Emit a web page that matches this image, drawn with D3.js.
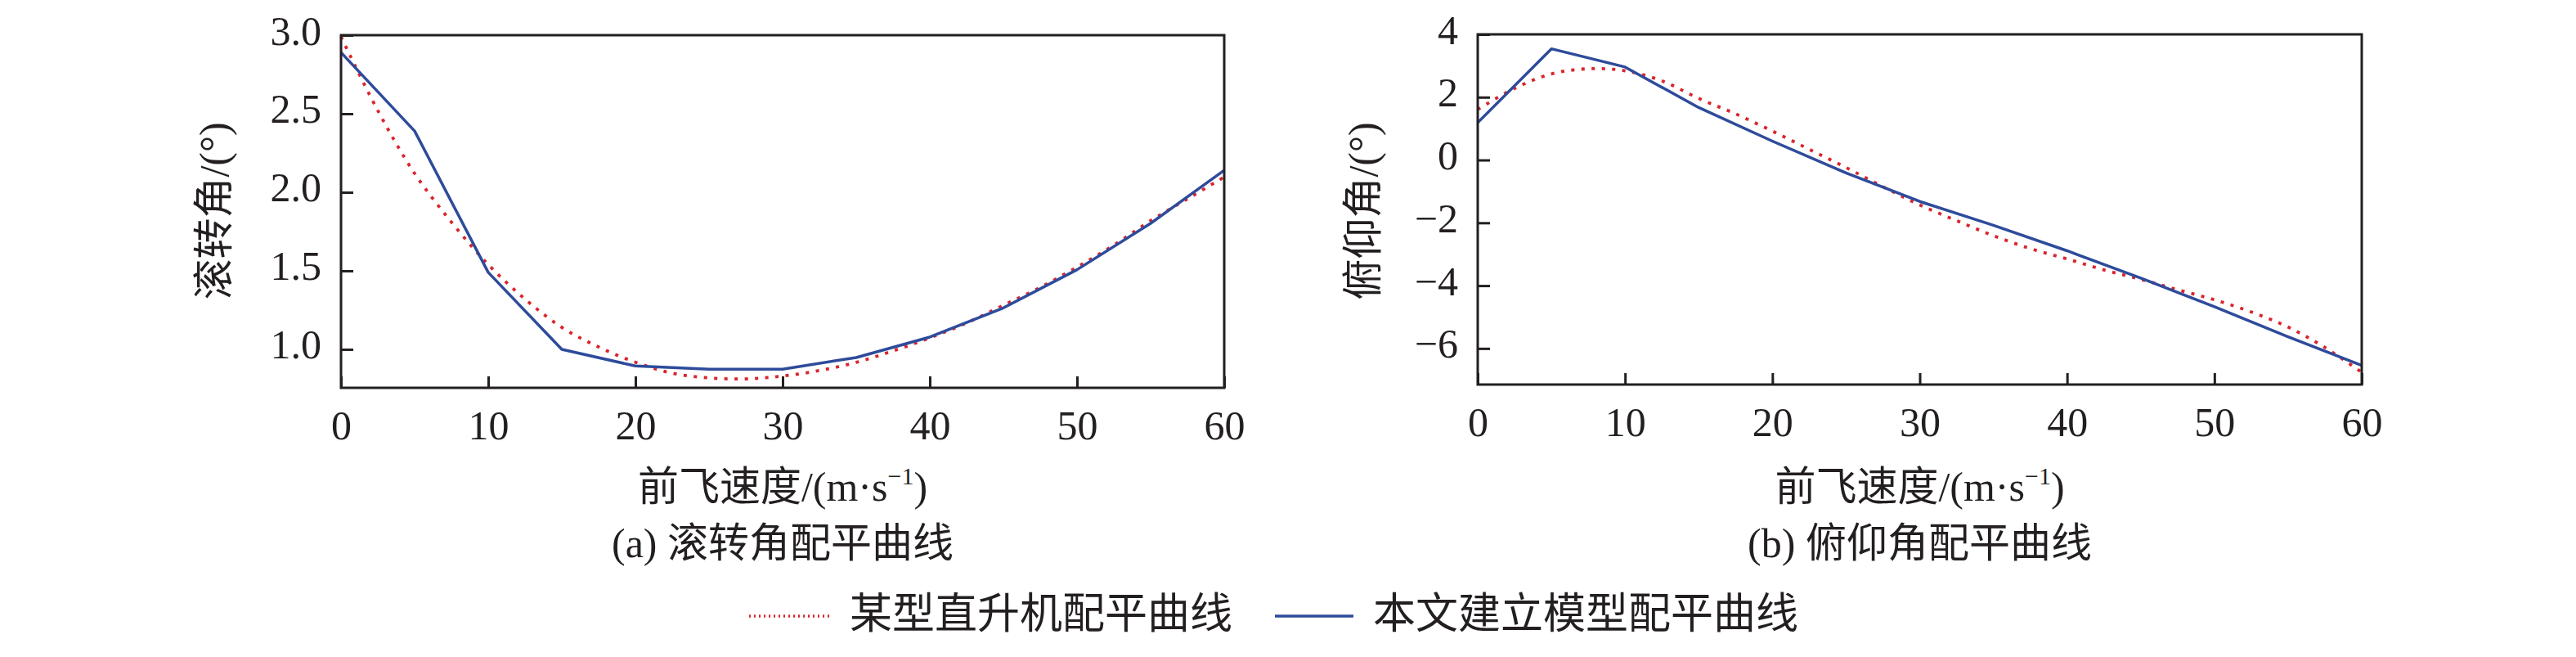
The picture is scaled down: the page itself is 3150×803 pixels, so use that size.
<!DOCTYPE html>
<html>
<head>
<meta charset="utf-8">
<script src="https://cdn.jsdelivr.net/npm/d3@7/dist/d3.min.js"></script>
<style>
	body { margin: 0; background: #fff; }
	text { font-family: 'Liberation Serif', 'Noto Sans CJK SC', serif; fill: #231f20; }
</style>
</head>
<body>
<script>
const w = 3150;
const h = 803;

// speeds of the model points and of the reference (smooth) curve
const speeds = [0, 5, 10, 15, 20, 25, 30, 35, 40, 45, 50, 55, 60];
const speedsRef = [0, 2.5, 5, 7.5, 10, 12.5, 15, 17.5, 20, 22.5, 25, 27.5, 30,
	32.5, 35, 37.5, 40, 42.5, 45, 47.5, 50, 52.5, 55, 57.5, 60];

// roll angle (deg)
const rollModel = [2.89, 2.39, 1.49, 1.0, 0.894, 0.874, 0.874, 0.948, 1.078, 1.264, 1.507, 1.802, 2.14];
const rollRef = [2.99, 2.52, 2.12, 1.81, 1.54, 1.32, 1.14, 1.015, 0.918, 0.848, 0.818, 0.812, 0.83,
	0.865, 0.917, 0.99, 1.073, 1.168, 1.281, 1.394, 1.524, 1.663, 1.819, 1.958, 2.097];

// pitch angle (deg)
const pitchModel = [1.19, 3.54, 2.96, 1.67, 0.6, -0.41, -1.32, -2.08, -2.89, -3.76, -4.67, -5.63, -6.54];
const pitchRef = [1.61, 2.28, 2.74, 2.905, 2.84, 2.52, 1.96, 1.47, 0.92, 0.34, -0.24, -0.85, -1.43,
	-1.93, -2.41, -2.82, -3.15, -3.5, -3.8, -4.13, -4.45, -4.84, -5.32, -5.97, -6.76];

const xTicks = [0, 10, 20, 30, 40, 50, 60];
const rollTicks = [1.0, 1.5, 2.0, 2.5, 3.0];
const pitchTicks = [-6, -4, -2, 0, 2, 4];

const legendNames = ['某型直升机配平曲线', '本文建立模型配平曲线'];

const red = '#d9252d';
const blue = '#2e4b9b';
const ink = '#231f20';

const panels = [
	{
		left: 417, right: 1497, top: 43, bottom: 474,
		yDomain: [0.755, 3.0], yTicks: rollTicks, fmt: d3.format('.1f'),
		model: rollModel, ref: rollRef,
		ylabel: '滚转角/(°)', ylabelX: 279, caption: '(a) 滚转角配平曲线'
	},
	{
		left: 1807, right: 2888, top: 42, bottom: 470,
		yDomain: [-7.15, 4], yTicks: pitchTicks, fmt: d3.format('d'),
		model: pitchModel, ref: pitchRef,
		ylabel: '俯仰角/(°)', ylabelX: 1684, caption: '(b) 俯仰角配平曲线'
	}
];

let svg = d3.select('body').append('svg').attr('width', w).attr('height', h);

panels.forEach(function(p) {
	let x = d3.scaleLinear().domain([0, 60]).range([p.left, p.right]);
	let y = d3.scaleLinear().domain(p.yDomain).range([p.bottom, p.top]);
	const cx = (p.left + p.right) / 2;

	// ticks point inward
	const xAxis = d3.axisBottom(x).tickValues(xTicks).tickSizeInner(-14).tickSizeOuter(0).tickPadding(27);
	const yAxis = d3.axisLeft(y).tickValues(p.yTicks).tickFormat(p.fmt).tickSizeInner(-15).tickSizeOuter(0).tickPadding(24);

	let gx = svg.append('g').attr('transform', 'translate(0,' + p.bottom + ')').call(xAxis);
	let gy = svg.append('g').attr('transform', 'translate(' + p.left + ',0)').call(yAxis);

	[gx, gy].forEach(function(g) {
		g.select('.domain').remove();
		g.selectAll('line').attr('stroke', ink).attr('stroke-width', 3);
		g.selectAll('text').attr('font-size', 50).attr('fill', ink)
			.style('font-family', "'Liberation Serif', serif");
	});
	gy.selectAll('text').attr('dy', '0.22em');

	// curves
	const line = d3.line().x(function(d) { return x(d[0]); }).y(function(d) { return y(d[1]); });

	svg.append('path')
		.datum(d3.zip(speedsRef, p.ref))
		.attr('fill', 'none')
		.attr('stroke', red)
		.attr('stroke-width', 3.8)
		.attr('stroke-dasharray', '4,8.5')
		.attr('d', line.curve(d3.curveCatmullRom));

	svg.append('path')
		.datum(d3.zip(speeds, p.model))
		.attr('fill', 'none')
		.attr('stroke', blue)
		.attr('stroke-width', 3.5)
		.attr('stroke-linejoin', 'round')
		.attr('d', line.curve(d3.curveLinear));

	// frame
	svg.append('rect')
		.attr('x', p.left).attr('y', p.top)
		.attr('width', p.right - p.left).attr('height', p.bottom - p.top)
		.attr('fill', 'none').attr('stroke', ink).attr('stroke-width', 3);

	// axis titles
	svg.append('text')
		.attr('transform', 'translate(' + p.ylabelX + ',258) rotate(-90)')
		.attr('text-anchor', 'middle')
		.attr('font-size', 50)
		.text(p.ylabel);

	let xl = svg.append('text')
		.attr('x', cx).attr('y', 612)
		.attr('text-anchor', 'middle')
		.attr('font-size', 50);
	xl.append('tspan').text('前飞速度/(m·s');
	xl.append('tspan').attr('dy', -20).attr('font-size', 30).text('−1');
	xl.append('tspan').attr('dy', 20).text(')');

	svg.append('text')
		.attr('x', cx).attr('y', 681)
		.attr('text-anchor', 'middle')
		.attr('font-size', 50)
		.text(p.caption);
});

// legend
const legend = svg.append('g');
legend.append('line')
	.attr('x1', 916).attr('x2', 1014).attr('y1', 753).attr('y2', 753)
	.attr('stroke', red).attr('stroke-width', 3.5).attr('stroke-dasharray', '2,4');
legend.append('text').attr('x', 1039).attr('y', 768).attr('font-size', 52).text(legendNames[0]);
legend.append('line')
	.attr('x1', 1559).attr('x2', 1655).attr('y1', 753).attr('y2', 753)
	.attr('stroke', blue).attr('stroke-width', 3.5);
legend.append('text').attr('x', 1679).attr('y', 768).attr('font-size', 52).text(legendNames[1]);
</script>
</body>
</html>
